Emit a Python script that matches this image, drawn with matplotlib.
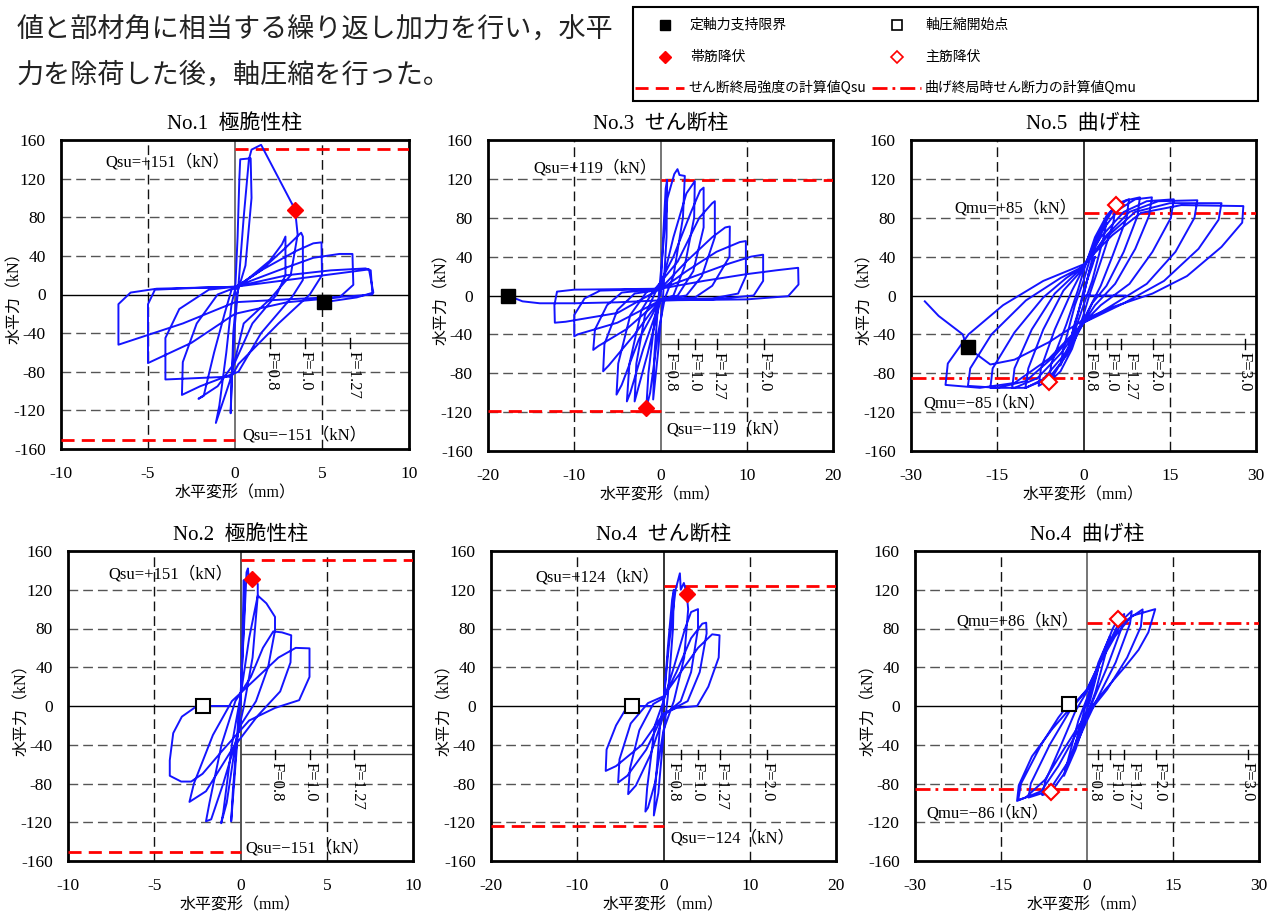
import matplotlib
matplotlib.use('Agg')
import matplotlib.pyplot as plt
from matplotlib.patches import Rectangle

plt.rcParams['axes.unicode_minus'] = False
SERIF = ['Liberation Serif', 'Noto Sans CJK JP']
CJK = ['Noto Sans CJK JP', 'DejaVu Sans']
W, H = 1273, 915

# ---------------- data (horizontal displacement mm, horizontal force kN) ----------------
no1_path = [
    (0, 0), (0.15, 60), (0.25, 120), (0.3, 140), (0.9, 141), (0.95, 100), (0.6, 30), (0.1, 0),
    (-0.1, -40), (-0.2, -100), (-0.25, -123), (-0.2, -90), (0, -30), (0.2, 10),
    (0.5, 80), (0.8, 140), (0.95, 150), (1.5, 155), (3.45, 88), (3.6, 62), (3.2, 20), (2.0, -5),
    (0.5, -30), (-0.3, -90), (-1.1, -133), (-0.9, -115), (-0.5, -60), (-0.2, -10), (0, 5),
    (1.0, 20), (2.0, 35), (2.7, 52), (2.9, 60), (2.9, 20), (2.4, 0), (1.0, -30), (0, -70),
    (-1.0, -95), (-2.1, -108), (-1.8, -105), (-1.2, -60), (-0.6, -20), (-0.2, 5),
    (1.5, 25), (3.0, 50), (3.8, 64), (3.9, 60), (3.9, 15), (3.3, -2), (1.5, -40), (0.2, -80),
    (-2.0, -95), (-3.05, -104), (-3.0, -70), (-2.2, -30), (-1.0, 0), (0, 7),
    (1.5, 25), (3.5, 45), (4.5, 53), (4.97, 54), (5.0, 20), (4.3, 0), (2.5, -30), (0.2, -72),
    (-0.2, -85), (-4.0, -88), (-4.0, -45), (-3.2, -15), (-1.5, 5), (0, 8),
    (2.5, 25), (4.5, 38), (6.0, 42), (6.75, 42), (6.8, 10), (6.0, -3), (3.0, -8), (0, -20),
    (-2.5, -50), (-5.0, -71), (-5.0, -10), (-4.6, 5), (-2.0, 7), (0, 8),
    (3.0, 20), (5.5, 25), (7.5, 27), (7.8, 25), (7.9, 0), (6.5, -2), (3.0, -5), (0, -8),
    (-3.0, -30), (-6.7, -52), (-6.7, -10), (-6.0, 2), (-4.5, 6), (0, 8),
    (3.0, 15), (6.0, 22), (7.7, 26), (7.95, 2), (7.0, -3), (5.1, -8)]

no3_path = [
    (0, 0), (0.3, 60), (0.6, 110), (0.77, 119), (0.7, 60), (0.3, 0), (-0.3, -60), (-0.85, -107),
    (-0.7, -60), (-0.2, 0), (0.2, 40),
    (0.8, 100), (1.6, 125), (1.97, 130), (2.2, 124), (2.82, 123), (2.6, 80), (1.5, 20), (0.5, -3),
    (-0.3, -40), (-1.2, -100), (-1.65, -116), (-1.4, -80), (-0.6, -20), (0, 5),
    (1.5, 60), (3.0, 105), (3.98, 117.7), (3.9, 80), (2.8, 30), (1.5, 0), (0, -5), (-1.5, -60),
    (-3.0, -109), (-2.8, -70), (-1.8, -20), (-0.5, 5),
    (1.5, 40), (3.5, 85), (4.6, 108), (5.0, 111), (5.0, 70), (3.8, 25), (2, 0), (0, -5),
    (-2, -55), (-3.5, -100), (-3.9, -109), (-3.6, -70), (-2.2, -15), (-0.8, 5),
    (2, 35), (4.5, 80), (6.0, 95), (6.3, 97), (6.3, 60), (4.8, 20), (3, 0), (0, -4),
    (-2.5, -45), (-4.5, -92), (-5.1, -102), (-4.9, -70), (-3.5, -20), (-1.5, 5), (0, 7),
    (3, 35), (6, 60), (7.5, 70), (8.04, 71), (8.0, 40), (6, 10), (4, -2), (0, -4),
    (-3, -40), (-6, -72), (-6.65, -78), (-6.5, -50), (-5, -15), (-3, 2), (0, 6),
    (3, 25), (6.5, 45), (9.2, 55), (9.9, 56), (9.9, 20), (9.0, 2), (6, -3), (0, -4),
    (-4, -35), (-7.2, -52), (-7.8, -56), (-7.6, -35), (-6.2, -10), (-4.5, 3), (0, 7),
    (4, 20), (8, 33), (10.5, 40), (11.9, 42), (11.9, 15), (10.8, 0), (6, -4), (0, -5),
    (-5, -28), (-9.6, -40), (-10, -42), (-10, -20), (-8.8, -3), (-7, 5), (0, 7),
    (-5, -18), (-11, -27), (-12.25, -28), (-12.3, -10), (-12, 4), (-10, 6), (0, 7),
    (5, 15), (10, 22), (13.5, 26), (15.96, 28.5), (16, 11.3), (14.8, -0.7), (10, -4), (0, -5),
    (-5, -7), (-10, -8), (-14, -8), (-16, -6), (-17.7, 0)]

no5_path = [
    (7.3, 0), (0, 0), (1, 25), (2, 40), (1.5, 30), (0, 5), (-1, -20), (-2, -40), (-1.5, -28), (0, 0),
    (2, 50), (4, 75), (3.5, 60), (1.5, 15), (0, -10), (-2, -45), (-4, -72), (-3.5, -55), (-1.5, -10), (0, 15),
    (2, 55), (4, 80), (5.6, 93), (5.2, 75), (3, 35), (1, 0), (0, -20), (-2, -55), (-4, -78), (-6, -89),
    (-5.6, -70), (-3, -30), (-1, 5), (0, 25),
    (2, 60), (4, 82), (6, 95), (7.9, 99), (7.5, 80), (5, 40), (3, 10), (0, -25), (-3, -60), (-5.5, -85),
    (-7.8, -93), (-7.4, -75), (-5, -35), (-2, 5), (0, 28),
    (2.5, 62), (5, 87), (7.5, 98), (9.8, 101), (9.4, 82), (7, 45), (4, 10), (1.5, -8), (0, -28),
    (-3, -62), (-6, -85), (-10.1, -95), (-9.6, -75), (-7, -35), (-3.5, 5), (0, 28),
    (3, 65), (6, 88), (9, 99), (11.9, 101), (11.4, 82), (9, 48), (5.5, 12), (2, -10), (0, -28),
    (-3.5, -62), (-7, -86), (-10, -95), (-12.4, -95), (-12, -75), (-9, -35), (-5, 2), (0, 30),
    (3, 60), (7, 86), (11, 97), (15.7, 99), (15.2, 80), (12, 45), (8, 12), (3, -10), (0, -28),
    (-4, -60), (-8, -85), (-12, -95), (-16.2, -95), (-15.8, -75), (-12, -38), (-7, -2), (-3, 18), (0, 30),
    (4, 62), (8, 86), (13, 97), (19.8, 98), (19.3, 80), (16, 45), (11, 12), (5, -10), (0, -28),
    (-5, -62), (-10, -88), (-15, -95), (-20.1, -93), (-19.7, -75), (-16, -40), (-10, -5), (-4, 18), (0, 30),
    (4, 60), (9, 86), (15, 95), (24, 95), (23.5, 78), (20, 48), (14, 15), (7, -8), (0, -28),
    (-6, -65), (-12, -90), (-18, -95), (-24, -92), (-23.6, -70), (-20, -40), (-14, -10), (-7, 15), (0, 32),
    (5, 62), (10, 85), (17, 93), (27.8, 92), (27.6, 75), (24, 50), (18, 20), (12, 2), (5, -12), (0, -25),
    (-6, -48), (-12, -66), (-16.2, -71), (-20.3, -53), (-21, -40), (-25.2, -21), (-27.6, -6)]

no2_path = [
    (0, 0), (0.1, 60), (0.19, 130), (0.22, 100), (0.05, 20), (-0.2, -40), (-0.54, -119), (-0.45, -90),
    (-0.15, -20), (0, 10),
    (0.2, 80), (0.35, 138), (0.43, 142), (0.5, 128), (0.66, 131), (1.0, 126), (1.0, 114), (0.7, 50),
    (0.2, 0), (-0.3, -40), (-0.8, -100), (-1.12, -121), (-1.0, -110), (-0.5, -40), (0, 10),
    (0.5, 70), (1.0, 114), (1.5, 106), (2.0, 92), (2.0, 78), (1.6, 40), (0.9, 5), (0, -20),
    (-1.0, -80), (-1.7, -117), (-2.0, -119), (-1.8, -100), (-1.1, -40), (-0.3, 5),
    (0.6, 30), (1.3, 60), (1.9, 77), (2.4, 76), (2.94, 73), (2.9, 45), (2.3, 15), (1.0, -10),
    (-0.5, -45), (-2.0, -88), (-2.96, -99), (-2.7, -80), (-1.6, -30), (-0.5, 5),
    (1.0, 30), (2.2, 50), (3.2, 60), (4.0, 59.5), (4.0, 30), (3.4, 6), (2.0, -2), (0.5, -15),
    (-1.0, -45), (-2.2, -70), (-2.86, -78), (-3.44, -78), (-4.1, -72), (-4.1, -56), (-3.9, -28),
    (-3.4, -11), (-2.6, -1), (-2.2, 0), (-0.6, 0)]

no4s_path = [
    (0, 0), (0.5, 60), (1.0, 110), (1.2, 120), (1.1, 80), (0.5, 10), (0, -30), (-0.6, -90),
    (-1.12, -113), (-1.0, -90), (-0.4, -20), (0, 5),
    (0.6, 60), (1.4, 120), (1.9, 137), (2.0, 120), (2.36, 127), (2.69, 116), (2.86, 100), (2.4, 50),
    (1.2, 5), (0, -25), (-1.0, -80), (-1.8, -105), (-2.1, -109), (-1.9, -85), (-1.0, -20), (0, 5),
    (1.2, 40), (2.5, 80), (3.2, 97), (4.0, 100), (4.0, 80), (3.2, 35), (2.0, 5), (0, -10),
    (-1.5, -50), (-3.2, -82), (-4.1, -91), (-3.9, -65), (-2.8, -25), (-1.2, 2), (0, 8),
    (1.5, 35), (3.2, 70), (4.5, 85), (4.95, 86), (5.0, 75), (4.2, 35), (2.8, 5), (0, -8),
    (-2.0, -45), (-4.2, -72), (-5.26, -79), (-5.1, -55), (-3.8, -18), (-1.8, 3), (0, 10),
    (2.0, 35), (4.0, 60), (5.64, 74), (6.5, 73), (6.4, 50), (5.2, 20), (3.9, 0), (1.5, -2), (0, -8),
    (-2.5, -40), (-5.5, -62), (-6.7, -67), (-6.6, -45), (-5.5, -20), (-4.5, -5), (-3.65, 0), (-1.3, 0)]

no4f_path = [
    (0, 0), (1, 20), (2, 40), (1.6, 30), (0.5, 5), (-1, -20), (-2, -40), (-1.6, -30), (-0.5, -5), (0, 5),
    (2, 45), (4, 72), (3.5, 60), (1.5, 15), (0, -10), (-2, -45), (-4, -72), (-3.5, -60), (-1.5, -15), (0, 8),
    (2.5, 50), (4.5, 80), (5.4, 90), (6.5, 95), (6, 80), (3.5, 40), (1, 5), (-1.5, -30), (-4, -70),
    (-6.27, -89), (-7.8, -92), (-7.3, -78), (-4.5, -40), (-2, -5), (0, 15),
    (3, 55), (5.5, 85), (7.8, 98), (7.5, 85), (5, 45), (2, 10), (0, -15), (-3, -55), (-6, -82),
    (-7.8, -90), (-10.2, -94.5), (-9.8, -80), (-6.5, -40), (-3, -5), (0, 17),
    (3, 55), (6, 85), (9.7, 99.7), (9.4, 82), (7, 50), (3.5, 17), (0.8, -3), (-2, -30), (-5, -62),
    (-8, -88), (-12.2, -98), (-11.9, -82), (-9.6, -52), (-6.1, -24), (-2.6, 0), (0, 17),
    (2.6, 48), (4.9, 72), (7.8, 93), (11.9, 100), (10.7, 76), (9, 58), (6.7, 41), (3.2, 17), (0.9, 0),
    (-1.5, -21), (-4.4, -48), (-7.3, -76), (-10.7, -94.5), (-12, -97), (-11.5, -80), (-8, -40),
    (-5, -12), (-3.2, 2)]

titles = ['No.1  極脆性柱', 'No.3  せん断柱', 'No.5  曲げ柱',
          'No.2  極脆性柱', 'No.4  せん断柱', 'No.4  曲げ柱']
x_limits = [10, 20, 30, 10, 20, 30]
x_steps = [5, 10, 15, 5, 10, 15]
F_pos_short = [2, 4, 6.6]
F_pos_mid = [2, 4, 6.5, 12]
F_pos_long = [2, 4, 6.5, 12, 28]
F_lab_short = [2.1, 4.05, 6.8]
F_lab_mid = [1.2, 4.0, 6.7, 12.1]
F_lab_long = [1.3, 4.9, 8.1, 12.6, 28.0]
F_labels = ['F=0.8', 'F=1.0', 'F=1.27', 'F=2.0', 'F=3.0']
Q_values = [151, 119, 85, 151, 124, 86]
Q_kinds = ['Qsu', 'Qsu', 'Qmu', 'Qsu', 'Qsu', 'Qmu']
Q_pos_text = [(-0.3, 137.6), (-0.4, 130.8), (-1.2, 89.6), (-0.45, 136), (-0.5, 132.6), (-1.4, 87.8)]
Q_neg_text = [(0.4, -145.4), (0.67, -137), (-27.9, -111), (0.27, -146.8), (0.75, -136.5), (-28, -110.7)]
m_axial_limit = {0: [(5.1, -8)], 1: [(-17.7, 0)], 2: [(-20.1, -53.5)]}
m_comp_start = {3: [(-2.2, 0)], 4: [(-3.65, 0)], 5: [(-3.2, 2)]}
m_hoop_yield = {0: [(3.45, 88)], 1: [(-1.65, -116)], 3: [(0.66, 131)], 4: [(2.69, 115.7)]}
m_main_yield = {2: [(5.65, 92.7), (-5.95, -88.9)], 5: [(5.4, 89.3), (-6.27, -89)]}

paths = [no1_path, no3_path, no5_path, no2_path, no4s_path, no4f_path]
F_sets = [F_pos_short, F_pos_mid, F_pos_long, F_pos_short, F_pos_mid, F_pos_long]
F_lab_sets = [F_lab_short, F_lab_mid, F_lab_long, F_lab_short, F_lab_mid, F_lab_long]
# axes boxes in pixels: left, right, top, bottom
boxes = [(61, 409, 140, 449), (488, 833, 140, 451), (911, 1256, 140, 451),
         (68, 413, 551, 861), (491, 836, 551, 861), (915, 1259, 551, 861)]
zero_colors = ['#6a6a6a', '#6a6a6a', '#222222', '#444444', '#222222', '#6a6a6a']

BLUE = '#1414ff'
RED = '#ff0000'

fig = plt.figure(figsize=(W / 100, H / 100), dpi=100)

for i in range(6):
    l, r, t, b = boxes[i]
    ax = fig.add_axes([l / W, (H - b) / H, (r - l) / W, (b - t) / H])
    xm = x_limits[i]
    ax.set_xlim(-xm, xm)
    ax.set_ylim(-160, 160)
    xt = list(range(-xm, xm + 1, x_steps[i]))
    ax.set_xticks(xt)
    ax.set_yticks(range(-160, 161, 40))
    ax.tick_params(length=0, labelsize=12.5)
    ax.tick_params(axis='x', pad=12)
    ax.tick_params(axis='y', pad=11)
    for lab in ax.get_xticklabels() + ax.get_yticklabels():
        lab.set_fontfamily(SERIF)
    for s in ax.spines.values():
        s.set_linewidth(2)
    # grid
    for yv in [-120, -80, -40, 40, 80, 120]:
        ax.axhline(yv, color='#555555', lw=1, ls=(0, (7, 3.6)), zorder=1)
    for xv in xt[1:-1]:
        if xv != 0:
            ax.axvline(xv, color='#111111', lw=1, ls=(0, (7, 3.6)), zorder=1)
    ax.axhline(0, color='black', lw=1, zorder=1)
    ax.axvline(0, color=zero_colors[i], lw=1.3, zorder=1)
    # F scale
    ax.plot([0, xm], [-50, -50], color='#444444', lw=1, zorder=2)
    for k, fx in enumerate(F_sets[i]):
        ax.plot([fx, fx], [-45, -55], color='black', lw=1, zorder=2)
        ax.text(F_lab_sets[i][k], -58, F_labels[k], rotation=270, ha='center', va='top',
                fontsize=12, family=SERIF, zorder=2)
    # Q lines
    q = Q_values[i]
    if Q_kinds[i] == 'Qsu':
        ls = (0, (4.7, 2.6))
    else:
        ls = (0, (5.4, 1.8, 1, 1.8))
    ax.plot([0, xm], [q, q], color=RED, lw=2, ls=ls, zorder=3)
    ax.plot([-xm, 0], [-q, -q], color=RED, lw=2, ls=ls, zorder=3)
    px, py = Q_pos_text[i]
    ax.text(px, py, f'{Q_kinds[i]}=+{q}（kN）', ha='right', va='center', fontsize=12,
            family=SERIF, zorder=4)
    nx, ny = Q_neg_text[i]
    ax.text(nx, ny, f'{Q_kinds[i]}=−{q}（kN）', ha='left', va='center', fontsize=12,
            family=SERIF, zorder=4)
    # hysteresis
    xs = [p[0] for p in paths[i]]
    ys = [p[1] for p in paths[i]]
    ax.plot(xs, ys, color=BLUE, lw=1.4, zorder=5)
    # markers
    for (mx, my) in m_axial_limit.get(i, []):
        ax.plot(mx, my, 's', ms=9.5, color='black', zorder=6)
    for (mx, my) in m_comp_start.get(i, []):
        ax.plot(mx, my, 's', ms=9.5, mfc='white', mec='black', mew=1.5, zorder=6)
    for (mx, my) in m_hoop_yield.get(i, []):
        ax.plot(mx, my, 'D', ms=8.5, color=RED, zorder=6)
    for (mx, my) in m_main_yield.get(i, []):
        ax.plot(mx, my, 'D', ms=8.5, mfc='white', mec=RED, mew=1.5, zorder=6)
    # titles & labels
    ax.set_title(titles[i], fontsize=15, family=SERIF, pad=8)
    ax.text(0.5, -44 / (b - t), '水平変形（mm）', transform=ax.transAxes, ha='center', va='center',
            fontsize=11.5, family=SERIF)
    ax.text(-46 / (r - l), 0.5, '水平力（kN）', transform=ax.transAxes, ha='center', va='center',
            rotation=90, fontsize=11.5, family=SERIF)

# overlay for heading text and legend
lax = fig.add_axes([0, 0, 1, 1], zorder=10)
lax.set_xlim(0, W)
lax.set_ylim(H, 0)
lax.axis('off')
lax.text(17, 30, '値と部材角に相当する繰り返し加力を行い，水平', fontsize=19.5, family=CJK,
         va='center', ha='left', color='#222222')
lax.text(17, 75, '力を除荷した後，軸圧縮を行った。', fontsize=19.5, family=CJK,
         va='center', ha='left', color='#222222')
lax.add_patch(Rectangle((633, 7), 625, 94, fill=False, lw=1.5, ec='black'))
lax.plot(665, 25, 's', ms=7, color='black')
lax.text(690, 25, '定軸力支持限界', fontsize=10, family=CJK, va='center')
lax.plot(897, 25, 's', ms=7, mfc='white', mec='black', mew=1.2)
lax.text(925, 25, '軸圧縮開始点', fontsize=10, family=CJK, va='center')
lax.plot(665, 57, 'D', ms=6.5, color=RED)
lax.text(690, 57, '帯筋降伏', fontsize=10, family=CJK, va='center')
lax.plot(897, 57, 'D', ms=6.5, mfc='white', mec=RED, mew=1.2)
lax.text(925, 57, '主筋降伏', fontsize=10, family=CJK, va='center')
lax.plot([635, 684], [88, 88], color=RED, lw=2, ls=(0, (4.7, 2.6)))
lax.text(688, 88, 'せん断終局強度の計算値Qsu', fontsize=10, family=CJK, va='center')
lax.plot([872, 921], [88, 88], color=RED, lw=2, ls=(0, (5.4, 1.8, 1, 1.8)))
lax.text(925, 88, '曲げ終局時せん断力の計算値Qmu', fontsize=10, family=CJK, va='center')

fig.savefig('out.png', dpi=100)
